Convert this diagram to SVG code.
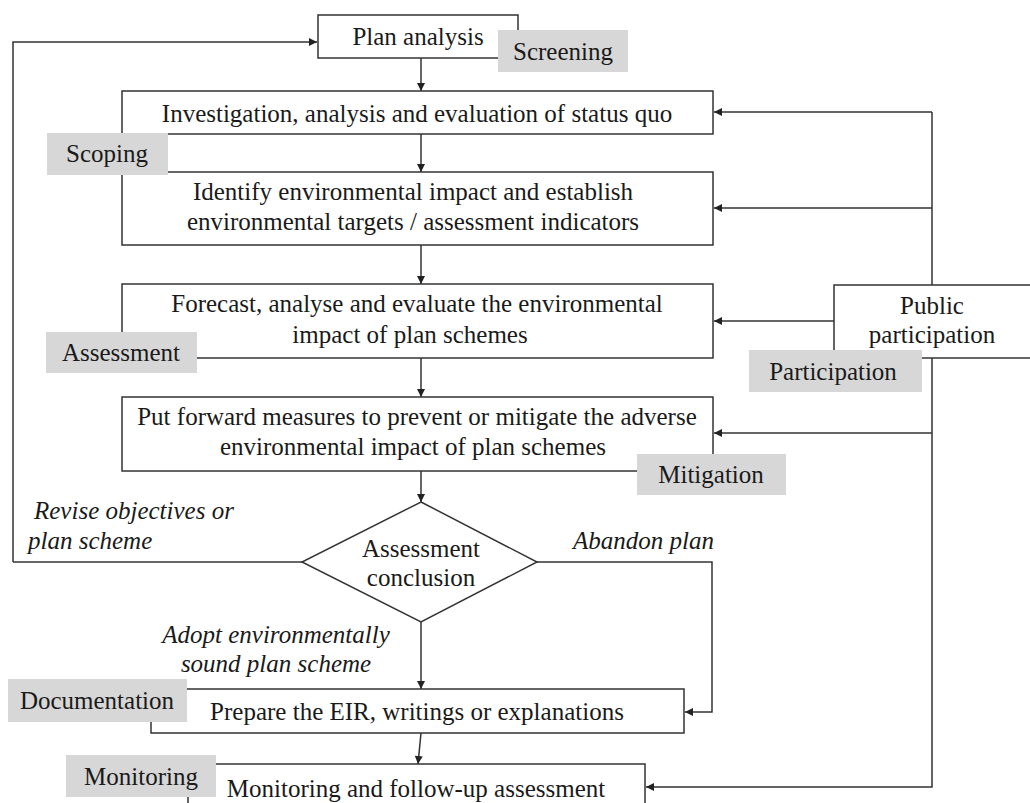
<svg xmlns="http://www.w3.org/2000/svg" width="1030" height="803" viewBox="0 0 1030 803">
<defs>
<marker id="ah" viewBox="0 0 10 10" refX="10" refY="5" markerWidth="9" markerHeight="8" markerUnits="userSpaceOnUse" orient="auto">
<path d="M0,0 L10,5 L0,10 z" fill="#222"/>
</marker>
<style>
.box{fill:#fff;stroke:#333;stroke-width:1.5}
.tag{fill:#d7d7d7;stroke:none}
.t{font-family:"Liberation Serif","Times New Roman",serif;font-size:25px;fill:#1a1a1a;text-anchor:middle}
.it{font-family:"Liberation Serif","Times New Roman",serif;font-size:25px;font-style:italic;fill:#1a1a1a}
.c{fill:none;stroke:#333;stroke-width:1.5}
.a{marker-end:url(#ah)}
</style>
</defs>
<rect width="1030" height="803" fill="#fff"/>

<g id="connectors">
<path class="c a" d="M13,562 L13,42 L317,42"/>
<line class="c" x1="13" y1="562" x2="302" y2="562"/>
<line class="c a" x1="421" y1="58" x2="421" y2="91"/>
<line class="c a" x1="421" y1="134" x2="421" y2="172"/>
<line class="c a" x1="421" y1="245" x2="421" y2="284"/>
<line class="c a" x1="421" y1="358" x2="421" y2="397"/>
<line class="c a" x1="421" y1="471" x2="421" y2="502"/>
<line class="c a" x1="421" y1="622" x2="421" y2="689"/>
<line class="c a" x1="421" y1="733" x2="418" y2="764"/>
<path class="c a" d="M537,562 L712,562 L712,712 L685,712"/>
<path class="c" d="M932,285 L932,112"/>
<line class="c a" x1="932" y1="112" x2="714" y2="112"/>
<line class="c a" x1="932" y1="208" x2="714" y2="208"/>
<line class="c a" x1="834" y1="321" x2="714" y2="321"/>
<line class="c a" x1="932" y1="433" x2="714" y2="433"/>
<path class="c a" d="M932,358 L932,787 L646,787"/>
</g>

<g id="plan-analysis">
<rect class="box" x="318" y="15" width="200" height="43"/>
<text class="t" x="418" y="45">Plan analysis</text>
</g>
<g id="investigation">
<rect class="box" x="122" y="91" width="591" height="43"/>
<text class="t" x="417" y="122">Investigation, analysis and evaluation of status quo</text>
</g>
<g id="identify">
<rect class="box" x="122" y="172" width="591" height="73"/>
<text class="t" x="413" y="200">Identify environmental impact and establish</text>
<text class="t" x="413" y="230">environmental targets / assessment indicators</text>
</g>
<g id="forecast">
<rect class="box" x="122" y="284" width="591" height="74"/>
<text class="t" x="417" y="312">Forecast, analyse and evaluate the environmental</text>
<text class="t" x="410" y="343">impact of plan schemes</text>
</g>
<g id="measures">
<rect class="box" x="122" y="397" width="591" height="74"/>
<text class="t" x="417" y="425">Put forward measures to prevent or mitigate the adverse</text>
<text class="t" x="413" y="455">environmental impact of plan schemes</text>
</g>
<g id="public">
<rect class="box" x="834" y="285" width="200" height="73"/>
<text class="t" x="932" y="314">Public</text>
<text class="t" x="932" y="343">participation</text>
</g>
<g id="conclusion">
<polygon class="box" points="421,502 537,562 421,622 302,562"/>
<text class="t" x="421" y="557">Assessment</text>
<text class="t" x="421" y="586">conclusion</text>
</g>
<g id="eir">
<rect class="box" x="151" y="689" width="533" height="44"/>
<text class="t" x="417" y="720">Prepare the EIR, writings or explanations</text>
</g>
<g id="monitoring">
<rect class="box" x="188" y="764" width="457" height="60"/>
<text class="t" x="416" y="797">Monitoring and follow-up assessment</text>
</g>

<g id="tag-screening">
<rect class="tag" x="498" y="30" width="130" height="42"/>
<text class="t" x="563" y="60">Screening</text>
</g>
<g id="tag-scoping">
<rect class="tag" x="47" y="133" width="121" height="42"/>
<text class="t" x="107" y="162">Scoping</text>
</g>
<g id="tag-assessment">
<rect class="tag" x="46" y="332" width="151" height="41"/>
<text class="t" x="121" y="361">Assessment</text>
</g>
<g id="tag-mitigation">
<rect class="tag" x="637" y="454" width="149" height="41"/>
<text class="t" x="711" y="483">Mitigation</text>
</g>
<g id="tag-participation">
<rect class="tag" x="749" y="350" width="173" height="42"/>
<text class="t" x="833" y="380">Participation</text>
</g>
<g id="tag-documentation">
<rect class="tag" x="8" y="679" width="179" height="43"/>
<text class="t" x="97" y="709">Documentation</text>
</g>
<g id="tag-monitoring">
<rect class="tag" x="66" y="755" width="150" height="42"/>
<text class="t" x="141" y="785">Monitoring</text>
</g>

<g id="edge-labels">
<text class="it" x="34" y="519">Revise objectives or</text>
<text class="it" x="28" y="549">plan scheme</text>
<text class="it" x="573" y="549">Abandon plan</text>
<text class="it" x="276" y="643" text-anchor="middle">Adopt environmentally</text>
<text class="it" x="276" y="672" text-anchor="middle">sound plan scheme</text>
</g>
</svg>
